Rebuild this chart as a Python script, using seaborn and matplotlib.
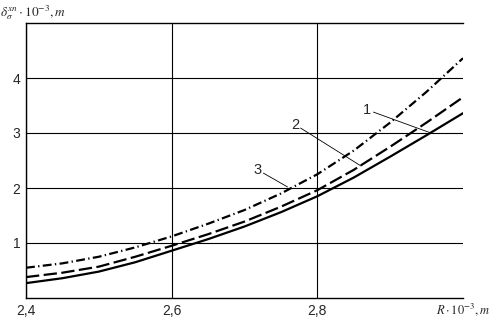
import numpy as np
import pandas as pd
import matplotlib
matplotlib.use("Agg")
import matplotlib.pyplot as plt
import seaborn as sns

# Data
R = [2.40, 2.45, 2.50, 2.55, 2.60, 2.65, 2.70, 2.75, 2.80, 2.85, 2.90, 2.95, 3.00]
curve_1 = [0.27, 0.36, 0.48, 0.65, 0.86, 1.07, 1.30, 1.56, 1.85, 2.19, 2.57, 2.96, 3.36]
curve_2 = [0.38, 0.46, 0.57, 0.75, 0.95, 1.16, 1.39, 1.66, 1.96, 2.33, 2.75, 3.19, 3.65]
curve_3 = [0.55, 0.63, 0.75, 0.92, 1.12, 1.35, 1.60, 1.90, 2.25, 2.68, 3.19, 3.75, 4.36]

x_ticks = [2.4, 2.6, 2.8]
x_tick_labels = ["2,4", "2,6", "2,8"]
y_ticks = [1, 2, 3, 4]
y_tick_labels = ["1", "2", "3", "4"]

# curve labels: (text, text position, leader start, leader end)
labels = [
    ("1", (2.868, 3.42), (2.877, 3.38), (2.956, 3.00)),
    ("2", (2.770, 3.15), (2.777, 3.09), (2.860, 2.40)),
    ("3", (2.718, 2.33), (2.726, 2.27), (2.759, 2.02)),
]

df = pd.DataFrame({
    "R": R * 3,
    "delta": curve_1 + curve_2 + curve_3,
    "curve": ["1"] * len(R) + ["2"] * len(R) + ["3"] * len(R),
})

sns.set_style("white")
plt.rcParams["mathtext.fontset"] = "stix"

fig = plt.figure(figsize=(4.91, 3.20), dpi=100)
ax = fig.add_axes([26 / 491, 22 / 320, 437 / 491, 275 / 320])

sns.lineplot(data=df, x="R", y="delta", style="curve", color="black",
             dashes={"1": "", "2": (6, 2), "3": (4, 1.5, 0.6, 1.5)},
             linewidth=1.6, legend=False, ax=ax)

ax.set_xlim(2.4, 3.0)
ax.set_ylim(0, 5)
ax.set_xticks(x_ticks)
ax.set_xticklabels(x_tick_labels, family="Liberation Sans", fontsize=10)
ax.set_yticks(y_ticks)
ax.set_yticklabels(y_tick_labels, family="Liberation Sans", fontsize=10)
ax.tick_params(length=0, pad=4)
ax.grid(True, color="black", linewidth=0.8)
ax.set_xlabel("")
ax.set_ylabel("")

for side in ["left", "bottom", "top"]:
    ax.spines[side].set_color("black")
    ax.spines[side].set_linewidth(1.0)
ax.spines["right"].set_visible(False)

for text, pos, start, end in labels:
    ax.text(pos[0], pos[1], text, ha="center", va="center",
            family="Liberation Sans", fontsize=10.5)
    ax.plot([start[0], end[0]], [start[1], end[1]], color="black", linewidth=0.6)

ax.text(3.0, -0.21, r"$R\cdot10^{-3}, m$", ha="center", va="center", fontsize=9,
        clip_on=False)
fig.text(0.0, 1 - 13 / 320, r"$\delta_{\sigma}^{xn}\cdot10^{-3}, m$", ha="left",
         va="center", fontsize=9.5)

fig.savefig("out.png", dpi=100)
